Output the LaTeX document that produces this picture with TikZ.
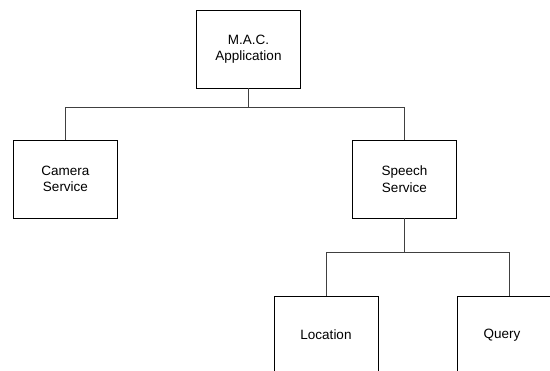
\documentclass[tikz,border=0pt]{standalone}
\usepackage{fontspec}
\setmainfont{Liberation Sans}
\begin{document}
\begin{tikzpicture}[x=1pt,y=-1pt,
  box/.style={draw=black,line width=0.9pt,minimum width=104pt,minimum height=78pt,inner sep=0pt,align=center,font=\fontsize{13.5}{16.5}\selectfont},
  link/.style={draw=black!75,line width=0.9pt}]
\useasboundingbox (0,0) rectangle (550,371);
\clip (0,0) rectangle (550,371);
\node[box] (mac) at (248.5,49) {M.A.C.\\Application};
\node[box] (cam) at (65.5,179) {Camera\\Service};
\node[box] (sp) at (404.5,179) {Speech\\Service};
\node[box] (loc) at (326,335) {Location};
\node[box] (qry) at (509,335) {\hspace*{-14pt}Query};
\coordinate (j1) at (248.5,107);
\coordinate (j2) at (404.5,252);
\draw[link] (mac.south) -- (j1);
\draw[link] (j1) -| (cam.north);
\draw[link] (j1) -| (sp.north);
\draw[link] (sp.south) -- (j2);
\draw[link] (j2) -| (loc.north);
\draw[link] (j2) -| (qry.north);
\end{tikzpicture}
\end{document}
